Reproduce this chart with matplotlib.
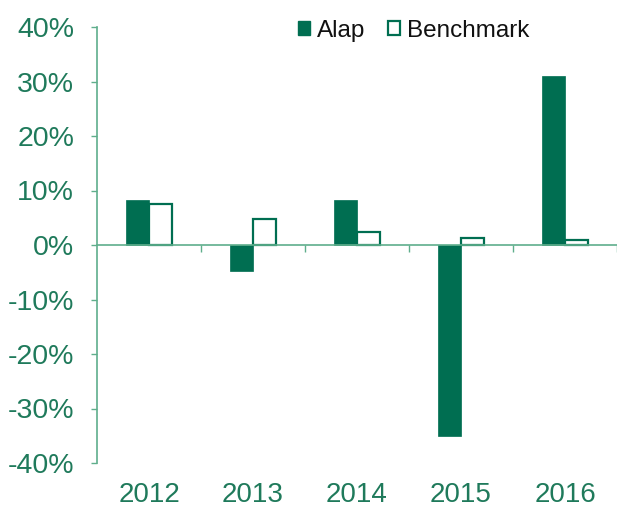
import numpy as np
import matplotlib.pyplot as plt
from matplotlib.patches import Patch
from matplotlib.ticker import FuncFormatter

# values, in percent
years = ['2012', '2013', '2014', '2015', '2016']
alap = [8.3, -4.8, 8.3, -35.0, 31.0]
benchmark = [7.5, 4.7, 2.4, 1.3, 0.85]

dark = '#006e51'
axis_col = '#5fae8c'
label_col = '#1f7a5b'

plt.rcParams['font.family'] = ['Liberation Sans', 'DejaVu Sans']

fig = plt.figure(figsize=(6.17, 5.07), dpi=100)
ax = fig.add_axes([97/617, 1 - 463/507, 520/617, (463 - 27)/507])

x = np.arange(len(years))
w = 0.22
ax.bar(x - w/2, alap, w, color=dark, edgecolor=dark, linewidth=0.5)
ax.bar(x + w/2, benchmark, w, color='white', edgecolor=dark, linewidth=1.6)

ax.set_xlim(-0.5, len(years) - 0.5)
ax.set_ylim(-40, 40)

for s in ['top', 'right']:
    ax.spines[s].set_visible(False)
ax.spines['bottom'].set_position(('data', 0))
ax.spines['bottom'].set_color(axis_col)
ax.spines['left'].set_color(axis_col)
ax.spines['bottom'].set_linewidth(1.2)
ax.spines['left'].set_linewidth(1.2)

ax.set_yticks(np.arange(-40, 41, 10))
ax.yaxis.set_major_formatter(FuncFormatter(lambda v, p: '%d%%' % v))
ax.tick_params(axis='y', colors=axis_col, length=4, width=1, labelcolor=label_col,
               labelsize=20.5, pad=12.5)

# tick marks between the categories, labels drawn under the plot
ax.set_xticks(x)
ax.set_xticklabels([])
ax.tick_params(axis='x', which='major', length=0)
ax.set_xticks(np.append(x[:-1] + 0.5, x[-1] + 0.5), minor=True)
ax.tick_params(axis='x', which='minor', length=5, width=1, color=axis_col, direction='out')
for xi, yr in zip(x, years):
    ax.text(xi, -0.043, yr, transform=ax.get_xaxis_transform(), ha='center', va='top',
            fontsize=20, color=label_col)

handles = [Patch(facecolor=dark, edgecolor=dark, label='Alap'),
           Patch(facecolor='white', edgecolor=dark, linewidth=1.6, label='Benchmark')]
leg = ax.legend(handles=handles, loc='center left', bbox_to_anchor=(201/520, 0.991), ncol=2,
                frameon=False, fontsize=17.5, handlelength=0.5, handleheight=0.5,
                handletextpad=0.3, columnspacing=0.9, borderpad=0, borderaxespad=0)
for t in leg.get_texts():
    t.set_color('#111111')

fig.savefig('out.png', dpi=100)
